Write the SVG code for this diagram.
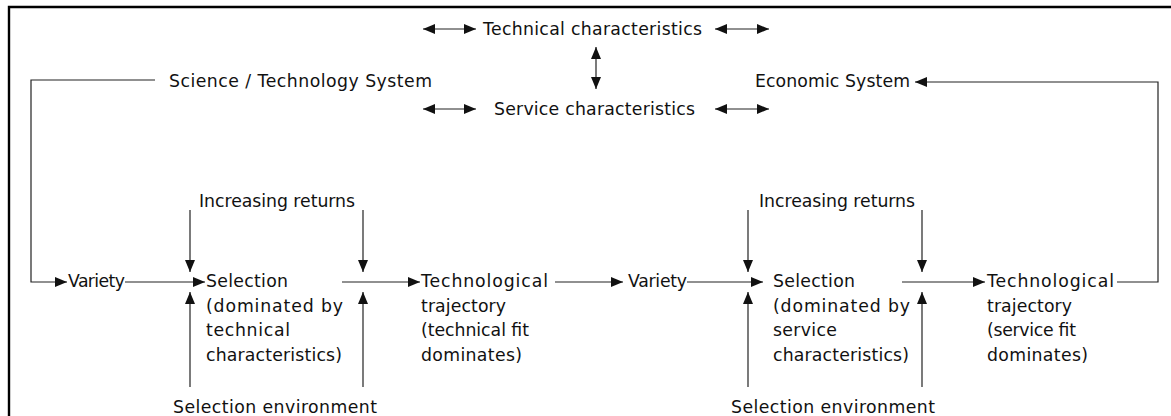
<svg xmlns="http://www.w3.org/2000/svg" width="1171" height="416" viewBox="0 0 1171 416">
  <style>
    text { font-family: "DejaVu Sans", "Liberation Sans", sans-serif; font-size: 17.3px; fill: #111; }
    .ln { fill: none; stroke: #222; stroke-width: 1.2; }
    .frame { fill: none; stroke: #000; stroke-width: 2.4; }
  </style>
  <defs>
    <marker id="arrow" markerUnits="userSpaceOnUse" markerWidth="13" markerHeight="11" refX="12" refY="5" orient="auto-start-reverse">
      <path d="M0,0 L12,5 L0,10 Z" fill="#111"/>
    </marker>
  </defs>
  <rect width="1171" height="416" fill="#fff"/>
  <path class="frame" d="M9,416 V7 H1171"/>

  <g id="technical-characteristics">
    <text x="483" y="35" textLength="219">Technical characteristics</text>
  </g>
  <g id="service-characteristics">
    <text x="494" y="115" textLength="201">Service characteristics</text>
  </g>
  <g id="science-technology-system">
    <text x="169" y="87" textLength="263">Science / Technology System</text>
  </g>
  <g id="economic-system">
    <text x="755" y="87" textLength="155">Economic System</text>
  </g>

  <g id="variety-1">
    <text x="68" y="287" textLength="57">Variety</text>
  </g>
  <g id="increasing-returns-1">
    <text x="199" y="207" textLength="156">Increasing returns</text>
  </g>
  <g id="selection-1">
    <text x="206" y="287" textLength="82">Selection</text>
    <text x="206" y="311.5" textLength="137">(dominated by</text>
    <text x="206" y="336" textLength="84">technical</text>
    <text x="206" y="360.5" textLength="136">characteristics)</text>
  </g>
  <g id="selection-environment-1">
    <text x="173" y="413" textLength="204">Selection environment</text>
  </g>
  <g id="trajectory-1">
    <text x="421" y="287" textLength="127">Technological</text>
    <text x="421" y="311.5" textLength="85">trajectory</text>
    <text x="421" y="336" textLength="108">(technical fit</text>
    <text x="421" y="360.5" textLength="101">dominates)</text>
  </g>

  <g id="variety-2">
    <text x="628" y="287" textLength="59">Variety</text>
  </g>
  <g id="increasing-returns-2">
    <text x="759" y="207" textLength="156">Increasing returns</text>
  </g>
  <g id="selection-2">
    <text x="773" y="287" textLength="82">Selection</text>
    <text x="773" y="311.5" textLength="137">(dominated by</text>
    <text x="773" y="336" textLength="64">service</text>
    <text x="773" y="360.5" textLength="136">characteristics)</text>
  </g>
  <g id="selection-environment-2">
    <text x="731" y="413" textLength="204">Selection environment</text>
  </g>
  <g id="trajectory-2">
    <text x="987" y="287" textLength="127">Technological</text>
    <text x="987" y="311.5" textLength="85">trajectory</text>
    <text x="987" y="336" textLength="89">(service fit</text>
    <text x="987" y="360.5" textLength="101">dominates)</text>
  </g>

  <g id="connectors">
    <!-- links between the characteristics and the two systems -->
    <line class="ln" x1="423" y1="29" x2="476" y2="29" marker-start="url(#arrow)" marker-end="url(#arrow)"/>
    <line class="ln" x1="715" y1="29" x2="769" y2="29" marker-start="url(#arrow)" marker-end="url(#arrow)"/>
    <line class="ln" x1="423" y1="109" x2="476" y2="109" marker-start="url(#arrow)" marker-end="url(#arrow)"/>
    <line class="ln" x1="715" y1="109" x2="769" y2="109" marker-start="url(#arrow)" marker-end="url(#arrow)"/>
    <line class="ln" x1="596" y1="47" x2="596" y2="89" marker-start="url(#arrow)" marker-end="url(#arrow)"/>

    <!-- feedback loops -->
    <path class="ln" d="M155,80 H31 V282 H67" marker-end="url(#arrow)"/>
    <path class="ln" d="M1117,282 H1158 V82 H915" marker-end="url(#arrow)"/>

    <!-- main chain -->
    <line class="ln" x1="125" y1="282" x2="205" y2="282" marker-end="url(#arrow)"/>
    <line class="ln" x1="342" y1="282" x2="420" y2="282" marker-end="url(#arrow)"/>
    <line class="ln" x1="555" y1="282" x2="623" y2="282" marker-end="url(#arrow)"/>
    <line class="ln" x1="687" y1="282" x2="763" y2="282" marker-end="url(#arrow)"/>
    <line class="ln" x1="902" y1="282" x2="985" y2="282" marker-end="url(#arrow)"/>

    <!-- increasing returns -->
    <line class="ln" x1="190" y1="210" x2="190" y2="272" marker-end="url(#arrow)"/>
    <line class="ln" x1="363" y1="210" x2="363" y2="272" marker-end="url(#arrow)"/>
    <line class="ln" x1="748" y1="210" x2="748" y2="272" marker-end="url(#arrow)"/>
    <line class="ln" x1="922" y1="210" x2="922" y2="272" marker-end="url(#arrow)"/>

    <!-- selection environment -->
    <line class="ln" x1="190" y1="387" x2="190" y2="292" marker-end="url(#arrow)"/>
    <line class="ln" x1="363" y1="387" x2="363" y2="292" marker-end="url(#arrow)"/>
    <line class="ln" x1="748" y1="387" x2="748" y2="292" marker-end="url(#arrow)"/>
    <line class="ln" x1="922" y1="387" x2="922" y2="292" marker-end="url(#arrow)"/>
  </g>
</svg>
